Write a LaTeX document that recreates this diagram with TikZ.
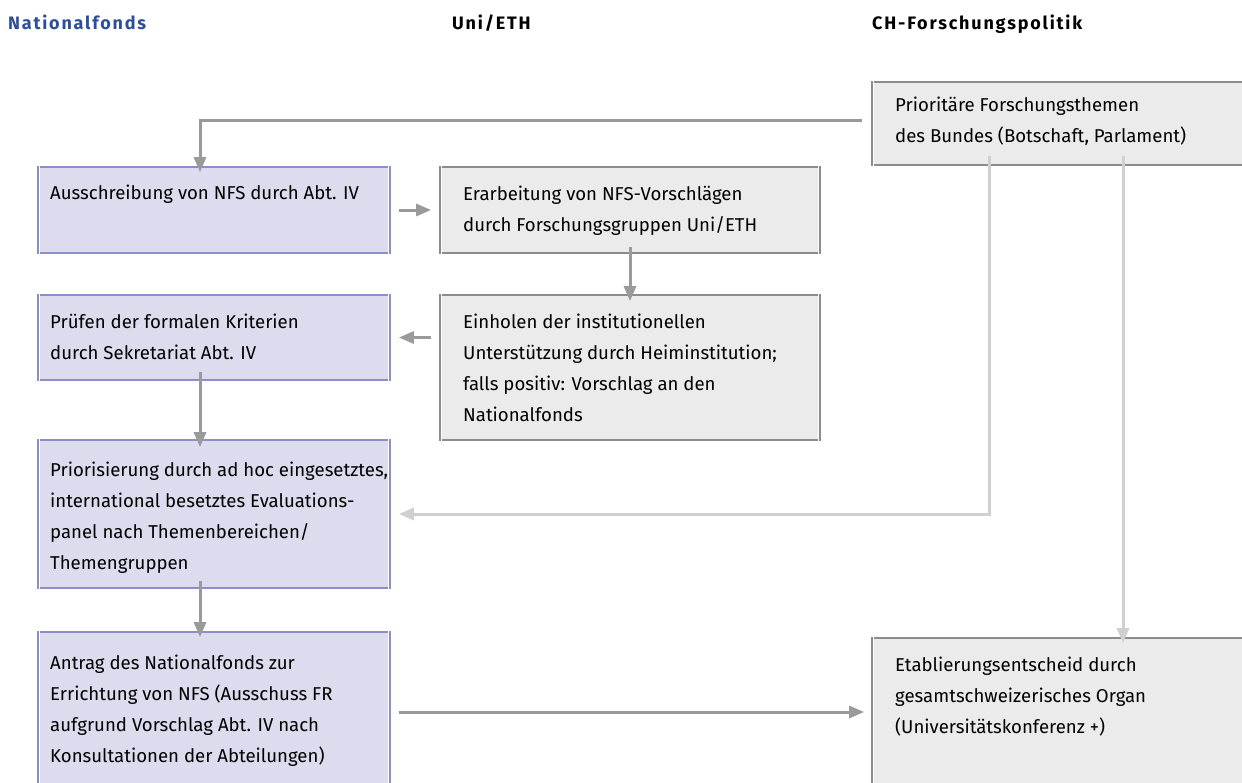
\documentclass[tikz,border=0pt]{standalone}
\usepackage{fontspec}
\setmainfont{Fira Sans}
\usetikzlibrary{arrows.meta}
\definecolor{bluefill}{HTML}{DCDCEE}
\definecolor{blueline}{HTML}{8A8FCC}
\definecolor{greyfill}{HTML}{EBEBEB}
\definecolor{greyline}{HTML}{8C8C8C}
\definecolor{darkarrow}{HTML}{9A9A9A}
\definecolor{lightarrow}{HTML}{D0D0D0}
\definecolor{headblue}{HTML}{2D4E9B}
\begin{document}
\begin{tikzpicture}[x=1pt,y=-1pt,
  bluebox/.style={draw=blueline,fill=bluefill,line width=1.8pt,inner sep=0pt},
  greybox/.style={draw=greyline,fill=greyfill,line width=1.8pt,inner sep=0pt},
  txt/.style={anchor=base west,inner sep=0pt,font=\fontsize{18.6}{31}\selectfont},
  head/.style={anchor=base west,inner sep=0pt,font=\fontsize{18}{20}\selectfont\bfseries\addfontfeature{LetterSpace=10}},
  darr/.style={draw=darkarrow,line width=3pt,-{Triangle[length=15pt,width=12pt]}},
  larr/.style={draw=lightarrow,line width=3pt,-{Triangle[length=15pt,width=12pt]}}]
\useasboundingbox (0,0) rectangle (1242,782);
\fill[white] (0,0) rectangle (1242,782);
% headers
\node[head,text=headblue] (h1) at (8,29) {Nationalfonds};
\node[head,text=black] (h2) at (452,29) {Uni/ETH};
\node[head,text=black] (h3) at (872,29) {CH-Forschungspolitik};
% boxes
\node[minimum width=352pt,minimum height=86pt,bluebox] (b1) at (214,210) {};
\node[minimum width=380pt,minimum height=86pt,greybox] (b2) at (630,210) {};
\node[minimum width=376pt,minimum height=83pt,greybox] (b3) at (1060,123.5) {};
\node[minimum width=380pt,minimum height=145pt,greybox] (b4) at (630,367.5) {};
\node[minimum width=352pt,minimum height=85pt,bluebox] (b5) at (214,337.5) {};
\node[minimum width=352pt,minimum height=148pt,bluebox] (b6) at (214,514) {};
\node[minimum width=352pt,minimum height=154pt,bluebox] (b7) at (214,709) {};
\node[minimum width=376pt,minimum height=148pt,greybox] (b8) at (1060,712) {};
\foreach \n in {b1,b2,b3,b4,b5,b6,b7,b8}
  \draw[white,line width=0.9pt] ([shift={(2.6pt,2.6pt)}]\n.north west) rectangle ([shift={(-2.6pt,-2.6pt)}]\n.south east);
% texts
\node[txt] (t1) at (50,199) {\parbox[t]{340pt}{Ausschreibung von NFS durch Abt. IV}};
\node[txt] (t2) at (463,200) {\parbox[t]{350pt}{Erarbeitung von NFS-Vorschlägen\\durch Forschungsgruppen Uni/ETH}};
\node[txt] (t3) at (895,111) {\parbox[t]{340pt}{Prioritäre Forschungsthemen\\des Bundes (Botschaft, Parlament)}};
\node[txt] (t4) at (463,328) {\parbox[t]{350pt}{Einholen der institutionellen\\Unterstützung durch Heiminstitution;\\falls positiv: Vorschlag an den\\Nationalfonds}};
\node[txt] (t5) at (50,328) {\parbox[t]{340pt}{Prüfen der formalen Kriterien\\durch Sekretariat Abt. IV}};
\node[txt] (t6) at (50,476) {\parbox[t]{340pt}{Priorisierung durch ad hoc eingesetztes,\\international besetztes Evaluations-\\panel nach Themenbereichen/\\Themengruppen}};
\node[txt] (t7) at (50,669) {\parbox[t]{340pt}{Antrag des Nationalfonds zur\\Errichtung von NFS (Ausschuss FR\\aufgrund Vorschlag Abt. IV nach\\Konsultationen der Abteilungen)}};
\node[txt] (t8) at (895,671) {\parbox[t]{340pt}{Etablierungsentscheid durch\\gesamtschweizerisches Organ\\(Universitätskonferenz +)}};
% arrows
\coordinate (a1s) at ([xshift=-9pt]b3.west);
\coordinate (a1e) at ([xshift=-14pt,yshift=-6pt]b1.north);
\draw[darr] (a1s |- 0,120) -| (a1e);
\draw[darr] ([xshift=8pt]b1.east) -- ([xshift=-8pt]b2.west);
\draw[darr] ([yshift=7pt]b2.south) -- ([yshift=-7pt]b4.north);
\draw[darr] ([xshift=-8pt]b4.west |- b5.east) -- ([xshift=8pt]b5.east);
\draw[darr] ([xshift=-14pt,yshift=9pt]b5.south) -- ([xshift=-14pt,yshift=-8pt]b6.north);
\draw[darr] ([xshift=-14pt,yshift=8pt]b6.south) -- ([xshift=-14pt,yshift=-6pt]b7.north);
\draw[darr] ([xshift=8pt]b7.east |- 0,712) -- ([xshift=-7pt]b8.west |- 0,712);
\coordinate (l1s) at ([yshift=10pt]b3.south -| 989,0);
\draw[larr] (l1s) |- ([xshift=8pt]b6.east);
\coordinate (l2s) at ([yshift=10pt]b3.south -| 1123,0);
\draw[larr] (l2s) -- ([yshift=-6pt]b8.north -| 1123,0);
\end{tikzpicture}
\end{document}
